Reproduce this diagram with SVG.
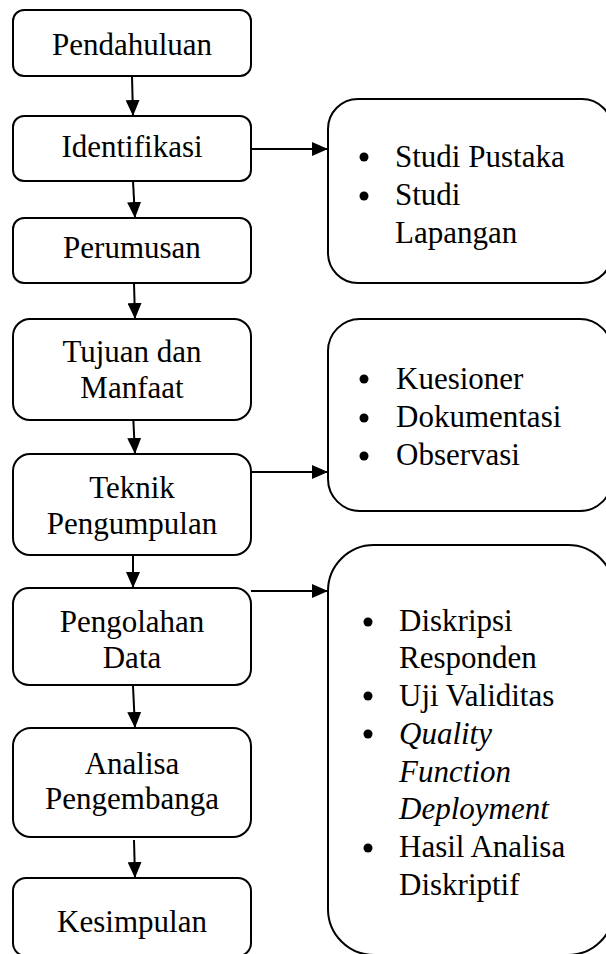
<svg xmlns="http://www.w3.org/2000/svg" width="606" height="954" viewBox="0 0 606 954">
<defs>
<style>
.box{fill:#fff;stroke:#000;stroke-width:2}
.t{font-family:"Liberation Serif","Times New Roman",serif;font-size:31px;fill:#000}
.c{text-anchor:middle}
.i{font-style:italic}
.ln{stroke:#000;stroke-width:2;fill:none}
</style>
<marker id="ah" markerUnits="userSpaceOnUse" markerWidth="16" markerHeight="14" refX="16" refY="7" orient="auto">
<path d="M0,0 L16,7 L0,14 Z" fill="#000"/>
</marker>
</defs>
<rect width="606" height="954" fill="#fff"/>
<g id="connectors">
<line class="ln" x1="132" y1="76" x2="133" y2="116" marker-end="url(#ah)"/>
<line class="ln" x1="133" y1="181" x2="135" y2="218" marker-end="url(#ah)"/>
<line class="ln" x1="134" y1="283" x2="135" y2="319" marker-end="url(#ah)"/>
<line class="ln" x1="133" y1="413" x2="135" y2="454" marker-end="url(#ah)"/>
<line class="ln" x1="133" y1="552" x2="133" y2="588" marker-end="url(#ah)"/>
<line class="ln" x1="133" y1="686" x2="135" y2="728" marker-end="url(#ah)"/>
<line class="ln" x1="134" y1="840" x2="135" y2="878" marker-end="url(#ah)"/>
<line class="ln" x1="251" y1="149" x2="328" y2="149" marker-end="url(#ah)"/>
<line class="ln" x1="251" y1="472" x2="328" y2="472" marker-end="url(#ah)"/>
<line class="ln" x1="251" y1="591" x2="328" y2="591" marker-end="url(#ah)"/>
</g>
<g id="pendahuluan">
<rect class="box" x="13" y="10" width="238" height="66" rx="11"/>
<text class="t c" x="132" y="55">Pendahuluan</text>
</g>
<g id="identifikasi">
<rect class="box" x="13" y="116" width="238" height="65" rx="11"/>
<text class="t c" x="132" y="157">Identifikasi</text>
</g>
<g id="perumusan">
<rect class="box" x="13" y="218" width="238" height="65" rx="11"/>
<text class="t c" x="132" y="258">Perumusan</text>
</g>
<g id="tujuan">
<rect class="box" x="13" y="319" width="238" height="101" rx="17"/>
<text class="t c" x="132" y="362">Tujuan dan</text>
<text class="t c" x="132" y="398">Manfaat</text>
</g>
<g id="teknik">
<rect class="box" x="13" y="454" width="238" height="101" rx="17"/>
<text class="t c" x="132" y="498">Teknik</text>
<text class="t c" x="132" y="534">Pengumpulan</text>
</g>
<g id="pengolahan">
<rect class="box" x="13" y="588" width="238" height="97" rx="16"/>
<text class="t c" x="132" y="632">Pengolahan</text>
<text class="t c" x="132" y="668">Data</text>
</g>
<g id="analisa">
<rect class="box" x="13" y="728" width="238" height="109" rx="18"/>
<text class="t c" x="132" y="774">Analisa</text>
<text class="t c" x="132" y="809">Pengembanga</text>
</g>
<g id="kesimpulan">
<rect class="box" x="13" y="878" width="238" height="78" rx="13"/>
<text class="t c" x="132" y="932">Kesimpulan</text>
</g>
<g id="studi">
<rect class="box" x="328" y="99" width="284" height="184" rx="30"/>
<circle cx="364" cy="157" r="4.5"/>
<circle cx="364" cy="196" r="4.5"/>
<text class="t" x="395" y="167">Studi Pustaka</text>
<text class="t" x="395" y="205">Studi</text>
<text class="t" x="395" y="243">Lapangan</text>
</g>
<g id="kuesioner">
<rect class="box" x="328" y="319" width="284" height="192" rx="32"/>
<circle cx="364" cy="379" r="4.5"/>
<circle cx="364" cy="418" r="4.5"/>
<circle cx="364" cy="456" r="4.5"/>
<text class="t" x="396" y="389">Kuesioner</text>
<text class="t" x="396" y="427">Dokumentasi</text>
<text class="t" x="396" y="465">Observasi</text>
</g>
<g id="pengolahan-detail">
<rect class="box" x="328" y="545" width="286" height="410" rx="46"/>
<circle cx="368" cy="622" r="4.5"/>
<circle cx="368" cy="696" r="4.5"/>
<circle cx="368" cy="734" r="4.5"/>
<circle cx="368" cy="848" r="4.5"/>
<text class="t" x="399" y="631">Diskripsi</text>
<text class="t" x="399" y="668">Responden</text>
<text class="t" x="399" y="706">Uji Validitas</text>
<text class="t i" x="399" y="744">Quality</text>
<text class="t i" x="399" y="782">Function</text>
<text class="t i" x="399" y="819">Deployment</text>
<text class="t" x="399" y="857">Hasil Analisa</text>
<text class="t" x="399" y="895">Diskriptif</text>
</g>
</svg>
